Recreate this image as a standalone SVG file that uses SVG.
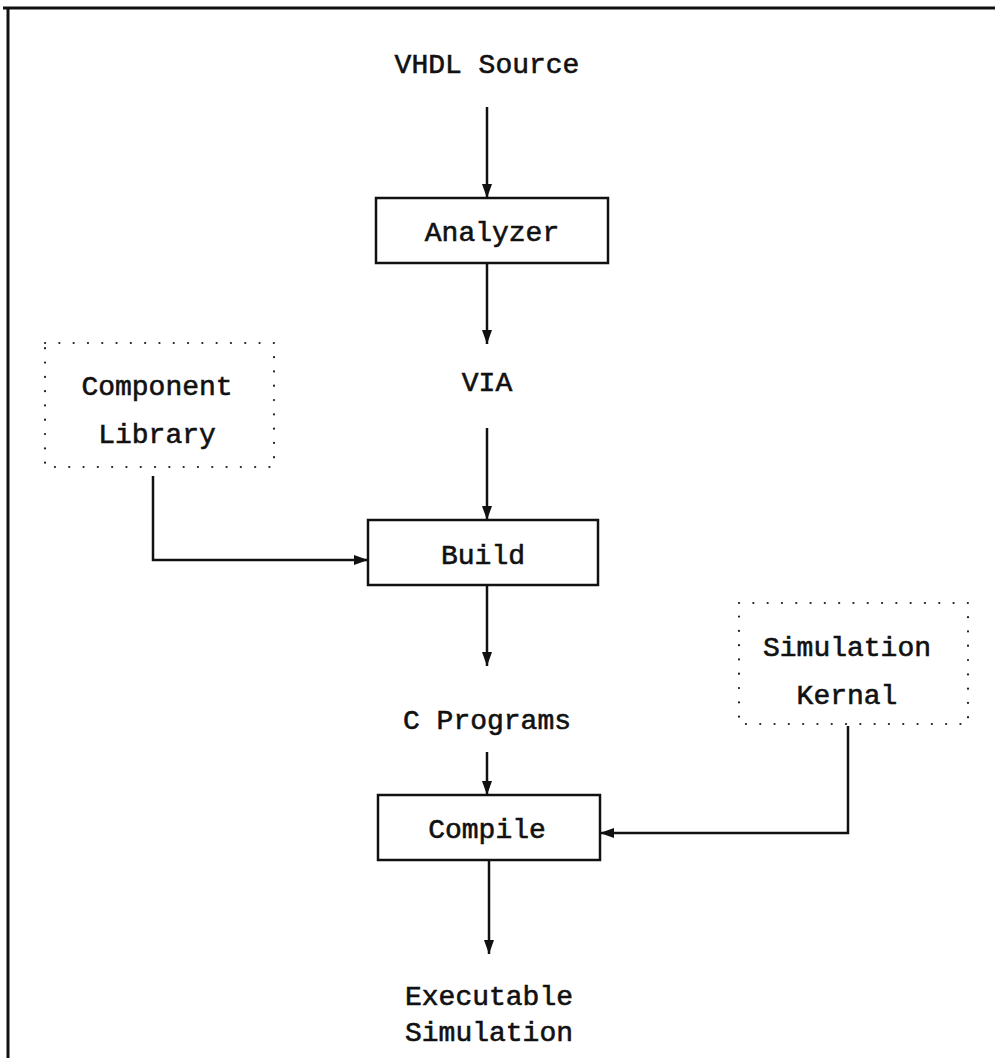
<svg xmlns="http://www.w3.org/2000/svg" width="995" height="1058" viewBox="0 0 995 1058">
<style>
text{font-family:"Liberation Mono","DejaVu Sans Mono",monospace;font-size:28px;fill:#111;stroke:#111;stroke-width:0.6;text-anchor:middle}
.box{fill:none;stroke:#111;stroke-width:2.5}
.dot{fill:none;stroke:#222;stroke-width:2.2;stroke-linecap:round;stroke-dasharray:0.1 14.2}
.ln{fill:none;stroke:#111;stroke-width:2.5}
</style>
<defs>
<marker id="ah" markerWidth="14" markerHeight="10" refX="14" refY="5" orient="auto" markerUnits="userSpaceOnUse">
<path d="M0,0 L14,5 L0,10 Z" fill="#111"/>
</marker>
</defs>
<rect x="0" y="0" width="995" height="1058" fill="#fff"/>
<g id="frame">
<line x1="3" y1="8" x2="995" y2="8" stroke="#111" stroke-width="3"/>
<line x1="8" y1="8" x2="8" y2="1058" stroke="#111" stroke-width="3"/>
</g>
<g id="vhdl"><text x="487" y="73">VHDL Source</text></g>
<g id="analyzer"><rect class="box" x="376" y="198" width="232" height="65"/><text x="492" y="241">Analyzer</text></g>
<g id="via"><text x="487" y="391">VIA</text></g>
<g id="complib"><rect class="dot" x="45" y="343" width="229" height="124"/><text x="157" y="395">Component</text><text x="157" y="443">Library</text></g>
<g id="build"><rect class="box" x="368" y="520" width="230" height="65"/><text x="483" y="564">Build</text></g>
<g id="cprog"><text x="487" y="729">C Programs</text></g>
<g id="simkern"><rect class="dot" x="739" y="603" width="229" height="121"/><text x="847" y="656">Simulation</text><text x="847" y="704">Kernal</text></g>
<g id="compile"><rect class="box" x="378" y="795" width="222" height="65"/><text x="487" y="838">Compile</text></g>
<g id="exec"><text x="489" y="1005">Executable</text><text x="489" y="1041">Simulation</text></g>
<g id="connectors">
<line class="ln" x1="487" y1="107" x2="487" y2="198" marker-end="url(#ah)"/>
<line class="ln" x1="487" y1="263" x2="487" y2="344" marker-end="url(#ah)"/>
<line class="ln" x1="487" y1="428" x2="487" y2="520" marker-end="url(#ah)"/>
<line class="ln" x1="487" y1="585" x2="487" y2="666" marker-end="url(#ah)"/>
<line class="ln" x1="487" y1="752" x2="487" y2="795" marker-end="url(#ah)"/>
<line class="ln" x1="489" y1="860" x2="489" y2="954" marker-end="url(#ah)"/>
<polyline class="ln" points="153,476 153,560 368,560" marker-end="url(#ah)"/>
<polyline class="ln" points="848,726 848,833 600,833" marker-end="url(#ah)"/>
</g>
</svg>
